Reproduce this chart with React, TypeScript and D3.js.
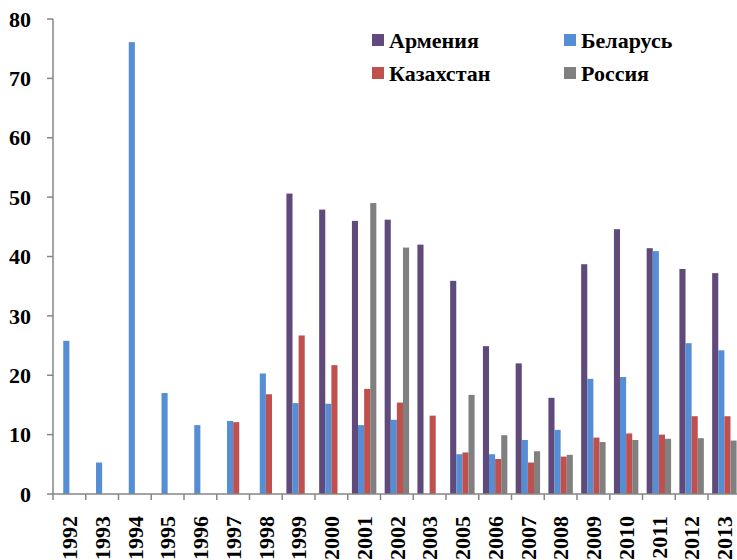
import * as d3 from "d3";

const YEARS = ["1992", "1993", "1994", "1995", "1996", "1997", "1998", "1999", "2000", "2001", "2002", "2003", "2005", "2006", "2007", "2008", "2009", "2010", "2011", "2012", "2013"];
const SERIES = ["Армения", "Беларусь", "Казахстан", "Россия"];
const COLORS = ["#604a7b", "#558ed5", "#c0504d", "#808080"];
// null = no bar for that year
const ARMENIA = [null, null, null, null, null, null, null, 50.6, 47.9, 46.0, 46.2, 42.0, 35.9, 24.9, 22.0, 16.2, 38.7, 44.6, 41.4, 37.9, 37.2];
const BELARUS = [25.8, 5.3, 76.1, 17.0, 11.6, 12.3, 20.3, 15.3, 15.2, 11.6, 12.5, null, 6.7, 6.7, 9.1, 10.8, 19.4, 19.7, 40.9, 25.4, 24.2];
const KAZAKHSTAN = [null, null, null, null, null, 12.1, 16.8, 26.7, 21.7, 17.7, 15.4, 13.2, 7.0, 5.9, 5.3, 6.3, 9.5, 10.2, 10.0, 13.1, 13.1];
const RUSSIA = [null, null, null, null, null, null, null, null, null, 49.0, 41.5, null, 16.7, 9.9, 7.2, 6.6, 8.75, 9.1, 9.3, 9.4, 9.0];
const Y_TICKS = [0, 10, 20, 30, 40, 50, 60, 70, 80];

const AXIS = "#868686";
const FONT = "Liberation Serif";

export default function App() {
    const width = 737, height = 560;
    const values = [ARMENIA, BELARUS, KAZAKHSTAN, RUSSIA];

    const x0 = d3.scaleBand().domain(YEARS).range([53, 740.75]);
    const x1 = d3.scaleBand().domain(SERIES).range([0, x0.step()]).paddingOuter(0.68);
    const y = d3.scaleLinear().domain([0, 80]).range([494, 19]);

    const lx = [372, 564];
    const ly = [34, 67];

    return (
        <svg width={width} height={height} fontFamily={FONT} fontWeight="bold" fontSize={22}
            style={{ position: "absolute", left: 0, top: 0, background: "#fff", fontFamily: FONT }}>
            <style>{`svg text { font-family: "Liberation Serif", "Times New Roman", serif !important; font-weight: bold; }`}</style>
            {/* Bars */}
            <g>
                {values.map((series, s) =>
                    series.map((v, i) => v == null ? null : (
                        <rect key={s + "-" + i}
                            x={x0(YEARS[i])! + x1(SERIES[s])!}
                            y={y(v)}
                            width={x1.bandwidth()}
                            height={y(0) - y(v)}
                            fill={COLORS[s]} />
                    ))
                )}
            </g>
            {/* Y axis */}
            <g>
                <line x1={53} x2={53} y1={y(80)} y2={y(0)} stroke={AXIS} strokeWidth={1.5} />
                {Y_TICKS.map((t) => (
                    <g key={t}>
                        <line x1={47} x2={53} y1={y(t)} y2={y(t)} stroke={AXIS} strokeWidth={1.5} />
                        <text x={31} y={y(t)} dy="0.35em" textAnchor="end" fontFamily={FONT} fontWeight="bold" fontSize={22}>{t}</text>
                    </g>
                ))}
            </g>
            {/* X axis */}
            <g>
                <line x1={53} x2={width} y1={y(0)} y2={y(0)} stroke={AXIS} strokeWidth={1.5} />
                {YEARS.map((yr) => (
                    <g key={yr}>
                        <line x1={x0(yr)!} x2={x0(yr)!} y1={y(0)} y2={y(0) + 6} stroke={AXIS} strokeWidth={1.5} />
                        <text transform={`translate(${x0(yr)! + x0.bandwidth() / 2},${y(0) + 22}) rotate(-90)`}
                            dy="0.35em" textAnchor="end" fontFamily={FONT} fontWeight="bold" fontSize={22}>{yr}</text>
                    </g>
                ))}
            </g>
            {/* Legend */}
            <g>
                {SERIES.map((name, i) => {
                    const gx = lx[i % 2], gy = ly[Math.floor(i / 2)];
                    return (
                        <g key={name}>
                            <rect x={gx} y={gy} width={12} height={12} fill={COLORS[i]} />
                            <text x={gx + 17} y={gy + 14} fontFamily={FONT} fontWeight="bold" fontSize={22}>{name}</text>
                        </g>
                    );
                })}
            </g>
        </svg>
    );
}
